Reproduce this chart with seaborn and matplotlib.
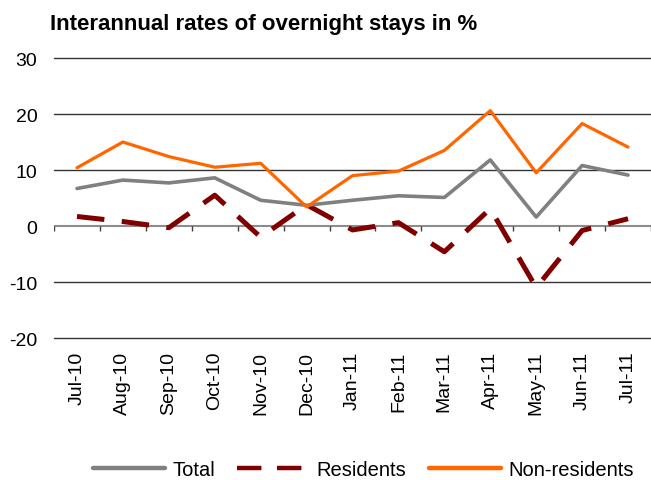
import matplotlib
matplotlib.use('Agg')
import matplotlib.pyplot as plt
import numpy as np
import pandas as pd
import seaborn as sns

# Data
months = ['Jul-10', 'Aug-10', 'Sep-10', 'Oct-10', 'Nov-10', 'Dec-10', 'Jan-11',
          'Feb-11', 'Mar-11', 'Apr-11', 'May-11', 'Jun-11', 'Jul-11']
total = [6.7, 8.2, 7.7, 8.6, 4.6, 3.7, 4.6, 5.4, 5.1, 11.8, 1.6, 10.8, 9.1]
residents = [1.7, 0.8, -0.3, 5.5, -2.0, 3.8, -0.7, 0.6, -4.6, 3.1, -11.0, -0.8, 1.3]
non_residents = [10.4, 15.0, 12.4, 10.5, 11.2, 3.4, 9.0, 9.8, 13.5, 20.6, 9.5, 18.3, 14.1]

sns.set_style('white')
plt.rcParams['font.family'] = ['Liberation Sans', 'DejaVu Sans']
plt.rcParams['axes.unicode_minus'] = False
plt.rcParams['text.color'] = 'black'

df = pd.DataFrame({'pos': range(len(months)), 'month': months,
                   'Total': total, 'Residents': residents, 'Non-residents': non_residents})

fig = plt.figure(figsize=(6.51, 4.81), dpi=100)
ax = fig.add_axes([0.083, 0.2952, 0.917, 0.5821])

# gridlines
for y in [-20, -10, 10, 20, 30]:
    ax.axhline(y, color='#333333', lw=1.0, zorder=1, clip_on=False)
ax.axhline(0, color='#8c8c8c', lw=1.5, zorder=1)
ax.vlines(np.arange(-0.5, len(months)), -0.9, 0, color='#404040', lw=1.0, zorder=1)

sns.lineplot(data=df, x='pos', y='Total', ax=ax, color='#808080', lw=2.6, label='Total', zorder=3)
sns.lineplot(data=df, x='pos', y='Residents', ax=ax, color='#800000', lw=3.6,
             label='Residents', zorder=2)
ax.lines[-1].set_dashes([5.5, 3.5])
sns.lineplot(data=df, x='pos', y='Non-residents', ax=ax, color='#ff6600', lw=2.3,
             label='Non-residents', zorder=4)

ax.set_xlim(-0.5, len(months) - 0.5)
ax.set_ylim(-20, 30)
ax.set_yticks([-20, -10, 0, 10, 20, 30])
ax.set_xticks(range(len(months)))
ax.set_xticklabels(months, rotation=90)
ax.tick_params(axis='both', length=0, labelsize=14, labelcolor='black')
ax.tick_params(axis='x', pad=9)
ax.tick_params(axis='y', pad=12)
ax.set_xlabel('')
ax.set_ylabel('')
for s in ax.spines.values():
    s.set_visible(False)

fig.text(0.077, 0.95, 'Interannual rates of overnight stays in %', fontsize=16,
         fontweight='bold', va='center', ha='left', color='black')

leg = ax.legend(loc='center', bbox_to_anchor=(0.518, -0.47), ncol=3, frameon=False,
                fontsize=14.5, handlelength=3.6, handletextpad=0.35, columnspacing=1.1)
for h in leg.get_lines():
    h.set_linewidth(3.2)

fig.savefig('out.png', dpi=100)
